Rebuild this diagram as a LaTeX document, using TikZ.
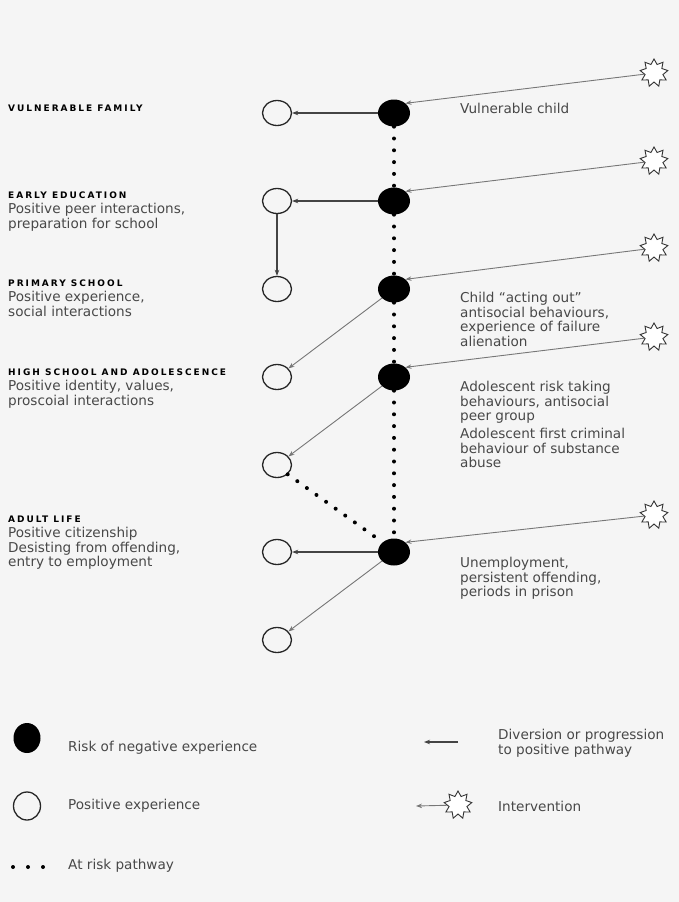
\documentclass[tikz,border=0pt]{standalone}
\usepackage{fontspec}
\setmainfont{DejaVu Sans}
\newfontfamily\headfont[LetterSpace=22]{DejaVu Sans}
\usetikzlibrary{shapes.geometric,arrows.meta,positioning}
\definecolor{bgpaper}{HTML}{F5F5F5}
\definecolor{txtgray}{HTML}{484848}
\definecolor{linegray}{HTML}{777777}
\definecolor{darkline}{HTML}{444444}

\begin{document}
\begin{tikzpicture}[x=1pt,y=-1pt,
  risk/.style={ellipse,fill=black,minimum width=32pt,minimum height=27pt,inner sep=0pt},
  posexp/.style={ellipse,draw=black!85,line width=1.3pt,fill=bgpaper,minimum width=29pt,minimum height=25pt,inner sep=0pt},
  burst/.style={star,star points=9,star point ratio=1.55,draw=black!80,line width=0.9pt,fill=white,minimum size=28pt,inner sep=0pt},
  atrisk/.style={line width=4pt,line cap=round,dash pattern=on 0pt off 11.8pt},
  divert/.style={-{Stealth[length=6pt,width=4.5pt]},line width=0.9pt,draw=linegray},
  ahead/.style={-{Stealth[length=6pt,width=4.5pt]},line width=1.1pt,draw=darkline},
  stage/.style={anchor=north west,inner sep=0pt,text=black,font=\headfont\bfseries\fontsize{9}{9}\selectfont},
  txt/.style={anchor=north west,align=left,inner sep=0pt,text=txtgray,font=\fontsize{13.6}{14.6}\selectfont}
]
\fill[bgpaper] (0,0) rectangle (679,902);
\useasboundingbox (0,0) rectangle (679,902);

% risk nodes on the main pathway
\node[risk] (b1) at (394,113) {};
\node[risk] (b2) at (394,201) {};
\node[risk] (b3) at (394,289) {};
\node[risk] (b4) at (394,377) {};
\node[risk] (b5) at (394,552) {};

% positive experiences
\node[posexp] (p1) at (277,113) {};
\node[posexp] (p2) at (277,201) {};
\node[posexp] (p3) at (277,289) {};
\node[posexp] (p4) at (277,377) {};
\node[posexp] (p5) at (277,465) {};
\node[posexp] (p6) at (277,552) {};
\node[posexp] (p7) at (277,640) {};

% interventions
\node[burst] (s1) at (654,73) {};
\node[burst] (s2) at (654,161) {};
\node[burst] (s3) at (654,248) {};
\node[burst] (s4) at (654,337) {};
\node[burst] (s5) at (654,515) {};

% at risk pathway
\draw[atrisk] (b1.south) -- (b2.north);
\draw[atrisk] (b2.south) -- (b3.north);
\draw[atrisk] (b3.south) -- (b4.north);
\draw[atrisk] (b4.south) -- (b5.north);
\draw[atrisk] (p5.south east) -- (b5.north west);

% diversions
\draw[ahead] (b1) -- (p1);
\draw[ahead] (b2) -- (p2);
\draw[ahead] (p2) -- (p3);
\draw[divert] (b3) -- (p4);
\draw[divert] (b4) -- (p5);
\draw[ahead] (b5) -- (p6);
\draw[divert] (b5) -- (p7);

\foreach \i in {1,...,5}
  \draw[divert] (s\i) -- (b\i.north east);

% stages
\node[stage] (h1) at (8,105) {VULNERABLE FAMILY};
\node[stage] (h2) at (8,192) {EARLY EDUCATION};
\node[txt, below=4pt of h2.south west, anchor=north west] (t2) {Positive peer interactions,\\preparation for school};
\node[stage] (h3) at (8,280) {PRIMARY SCHOOL};
\node[txt, below=4pt of h3.south west, anchor=north west] (t3) {Positive experience,\\social interactions};
\node[stage] (h4) at (8,369) {HIGH SCHOOL AND ADOLESCENCE};
\node[txt, below=4pt of h4.south west, anchor=north west] (t4) {Positive identity, values,\\proscoial interactions};
\node[stage] (h5) at (8,516) {ADULT LIFE};
\node[txt, below=4pt of h5.south west, anchor=north west] (t5) {Positive citizenship\\Desisting from offending,\\entry to employment};

% risks
\node[txt] (r1) at (460,103) {Vulnerable child};
\node[txt] (r3) at (460,292) {Child ``acting out''\\antisocial behaviours,\\experience of failure\\alienation};
\node[txt] (r4) at (460,381) {Adolescent risk taking\\behaviours, antisocial\\peer group};
\node[txt] (r4b) at (460,428) {Adolescent first criminal\\behaviour of substance\\abuse};
\node[txt] (r5) at (460,557) {Unemployment,\\persistent offending,\\periods in prison};

% legend
\node[risk, minimum width=27pt, minimum height=30pt] (kr) at (27,738) {};
\node[txt, anchor=west] (krt) at (68,748) {Risk of negative experience};
\node[posexp, minimum width=27pt, minimum height=28pt] (kp) at (27,806) {};
\node[txt, anchor=west] (kpt) at (68,806) {Positive experience};
\coordinate (kd1) at (13,867);
\coordinate (kd2) at (44,867);
\draw[atrisk, dash pattern=on 0pt off 15pt] (kd1) -- (kd2);
\node[txt, anchor=west] (kdt) at (68,866) {At risk pathway};
\coordinate (ka1) at (458,742);
\coordinate (ka2) at (424,742);
\draw[ahead] (ka1) -- (ka2);
\node[txt] (kat) at (498,729) {Diversion or progression\\to positive pathway};
\node[burst] (ks) at (458,805) {};
\coordinate (ks2) at (416,806);
\draw[divert] (ks) -- (ks2);
\node[txt, anchor=west] (kst) at (498,806) {Intervention};
\end{tikzpicture}
\end{document}
